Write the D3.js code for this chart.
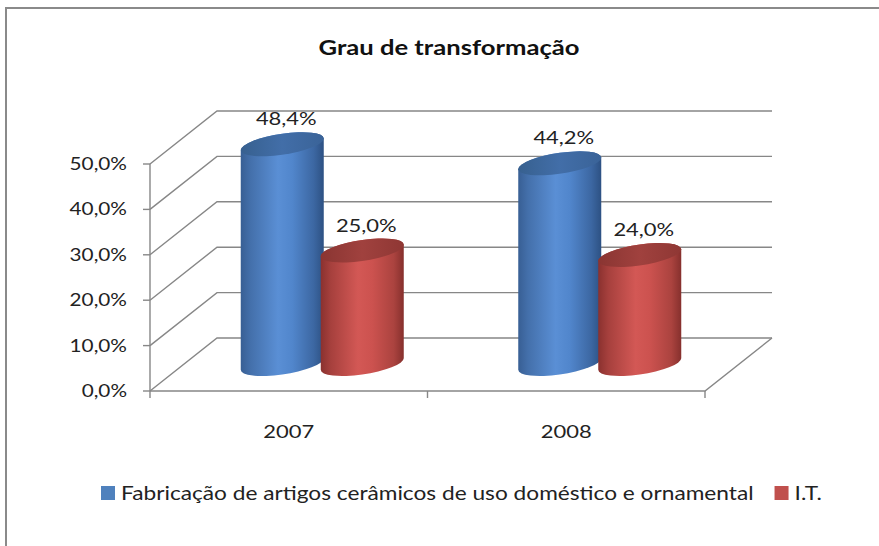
<!DOCTYPE html>
<html>
<head>
<meta charset="utf-8">
<script src="https://cdn.jsdelivr.net/npm/d3@7"></script>
<style>
  body { margin: 0; background: #fff; }
  svg { display: block; font-family: Lato, "Open Sans", sans-serif; }
</style>
</head>
<body>
<div id="chart"></div>
<script>
const years = ['2007', '2008'];
const seriesNames = ['Fabricação de artigos cerâmicos de uso doméstico e ornamental', 'I.T.'];
const fabricacao = [48.4, 44.2];
const it = [25.0, 24.0];
const yTicks = [0, 10, 20, 30, 40, 50];

const COLORS = ['#4f81bd', '#c0504d'];
const width = 879;
const height = 546;
const SX = 1.22; // text in the source is stretched sideways

const fmt = v => d3.format('.1f')(v).replace('.', ',') + '%';

const svg = d3.select('#chart').append('svg')
  .attr('width', width)
  .attr('height', height);

const defs = svg.append('defs');

function bodyGradient(id, stops) {
  const g = defs.append('linearGradient').attr('id', id)
    .attr('x1', 0).attr('x2', 1).attr('y1', 0).attr('y2', 0);
  stops.forEach(([o, c]) => g.append('stop').attr('offset', o).attr('stop-color', c));
}
bodyGradient('body0', [[0, '#385f94'], [0.12, '#4470ab'], [0.45, '#5a8fd5'], [0.62, '#5186cc'], [0.88, '#3c67a2'], [1, '#2d5183']]);
bodyGradient('body1', [[0, '#8a312f'], [0.12, '#a6403d'], [0.45, '#d35855'], [0.62, '#cc524f'], [0.88, '#ab433f'], [1, '#86302d']]);
bodyGradient('top0', [[0, '#37608f'], [0.5, '#426ea8'], [1, '#3a6398']]);
bodyGradient('top1', [[0, '#8a3532'], [0.5, '#a0413e'], [1, '#8f3734']]);

// chart area frame
svg.append('rect')
  .attr('x', 6).attr('y', 8)
  .attr('width', 1000).attr('height', 700)
  .attr('fill', 'none')
  .attr('stroke', '#8a8a8a')
  .attr('stroke-width', 2);

svg.append('text')
  .attr('transform', `translate(449,55) scale(${SX},1)`)
  .attr('text-anchor', 'middle')
  .attr('font-size', 21)
  .attr('font-weight', 'bold')
  .attr('fill', '#111')
  .text('Grau de transformação');

// 3D frame geometry
const frontLeft = 150, frontRight = 705;
const depthX = 67, depthY = -53;

const y = d3.scaleLinear().domain([0, 50]).range([391, 164]);
const x = d3.scaleBand().domain(years).range([frontLeft, frontRight]);

const grid = svg.append('g')
  .attr('stroke', '#878787')
  .attr('stroke-width', 1.4)
  .attr('fill', 'none');

yTicks.forEach(t => {
  // side wall diagonal and back wall line
  grid.append('polyline')
    .attr('points', [
      [frontLeft, y(t)],
      [frontLeft + depthX, y(t) + depthY],
      [frontRight + depthX, y(t) + depthY]
    ].join(' '));
  // tick mark
  grid.append('line')
    .attr('x1', frontLeft - 7).attr('x2', frontLeft)
    .attr('y1', y(t)).attr('y2', y(t));
});

// y axis line, floor front and right edges
grid.append('line')
  .attr('x1', frontLeft).attr('x2', frontLeft)
  .attr('y1', y(50)).attr('y2', y(0));
grid.append('polyline')
  .attr('points', [
    [frontLeft, y(0)],
    [frontRight, y(0)],
    [frontRight + depthX, y(0) + depthY]
  ].join(' '));

// category ticks
[frontLeft, ...years.slice(1).map(d => x(d)), frontRight].forEach(tx => {
  grid.append('line')
    .attr('x1', tx).attr('x2', tx)
    .attr('y1', y(0)).attr('y2', y(0) + 7);
});

svg.append('g').selectAll('text')
  .data(yTicks)
  .join('text')
  .attr('transform', d => `translate(127,${y(d) + 6}) scale(${SX},1)`)
  .attr('text-anchor', 'end')
  .attr('font-size', 17)
  .attr('fill', '#222')
  .text(fmt);

svg.append('g').selectAll('text')
  .data(years)
  .join('text')
  .attr('transform', d => `translate(${x(d) + x.bandwidth() / 2},438) scale(${SX},1)`)
  .attr('text-anchor', 'middle')
  .attr('font-size', 18)
  .attr('fill', '#222')
  .text(d => d);

// cylinders sit halfway into the depth
const midX = depthX / 2, midY = depthY / 2 - 0.5;
const rx = 41.5, ry = 10.5, gap = 40;
const series = [fabricacao, it];

const bars = [];
years.forEach((yr, i) => {
  series.forEach((vals, s) => {
    bars.push({ year: yr, s, value: vals[i] });
  });
});

const barsG = svg.append('g');
bars.forEach(d => {
  const cx = x(d.year) + x.bandwidth() / 2 + midX + (d.s === 0 ? -gap : gap);
  const yTop = y(d.value) + midY;
  const yBase = y(0) + midY;
  const x0 = cx - rx, x1 = cx + rx;

  const g = barsG.append('g')
    .attr('transform', `translate(${cx},0) skewY(-8) translate(${-cx},0)`);

  g.append('path')
    .attr('d', `M${x0},${yTop} L${x0},${yBase} A${rx},${ry} 0 0 0 ${x1},${yBase} L${x1},${yTop} A${rx},${ry} 0 0 0 ${x0},${yTop} Z`)
    .attr('fill', `url(#body${d.s})`);

  g.append('ellipse')
    .attr('cx', cx).attr('cy', yTop)
    .attr('rx', rx).attr('ry', ry)
    .attr('fill', `url(#top${d.s})`);

  svg.append('text')
    .attr('transform', `translate(${cx + 4},${yTop - 19}) scale(${SX},1)`)
    .attr('text-anchor', 'middle')
    .attr('font-size', 18)
    .attr('fill', '#222')
    .text(fmt(d.value));
});

// legend
const legend = svg.append('g');
let lx = 101;
seriesNames.forEach((name, i) => {
  legend.append('rect')
    .attr('x', lx).attr('y', 486)
    .attr('width', 14).attr('height', 14)
    .attr('fill', COLORS[i]);
  const t = legend.append('text')
    .attr('transform', `translate(${lx + 20},500) scale(${SX},1)`)
    .attr('font-size', 18.6)
    .attr('fill', '#222')
    .text(name);
  lx += 20 + t.node().getComputedTextLength() * SX + 21;
});
</script>
</body>
</html>
